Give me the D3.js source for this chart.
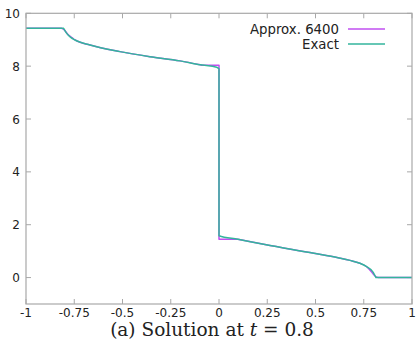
<!DOCTYPE html>
<html>
<head>
<meta charset="utf-8">
<script src="https://cdn.jsdelivr.net/npm/d3@7"></script>
<style>
  body { margin: 0; background: #fff; }
  svg text { font-family: "DejaVu Sans", sans-serif; fill: #222; }
</style>
</head>
<body>
<svg id="chart"></svg>
<script>
const width = 417;
const height = 351;

// Exact solution
const exactX = [-1, -0.805, -0.79, -0.77, -0.746, -0.668, -0.513, -0.358, -0.202, -0.098, -0.012, 0,
                0, 0.098, 0.238, 0.492, 0.617, 0.679, 0.73, 0.765, 0.799, 0.813, 1];
const exactY = [9.43, 9.43, 9.25, 9.1, 8.99, 8.8, 8.55, 8.36, 8.2, 8.05, 7.96, 7.9,
                1.585, 1.45, 1.25, 0.92, 0.75, 0.65, 0.54, 0.41, 0.2, 0, 0];

// Approximation (6400 cells)
const approxX = [-1, -0.815, -0.8, -0.785, -0.76, -0.746, -0.668, -0.513, -0.358, -0.202, -0.098, -0.085, 0,
                 0, 0.098, 0.238, 0.492, 0.617, 0.679, 0.73, 0.765, 0.795, 0.81, 0.825, 1];
const approxY = [9.43, 9.43, 9.36, 9.22, 9.07, 8.99, 8.8, 8.55, 8.36, 8.2, 8.05, 8.03, 8.03,
                 1.45, 1.45, 1.25, 0.92, 0.75, 0.65, 0.54, 0.41, 0.17, 0.05, 0, 0];

const xTicks = [-1, -0.75, -0.5, -0.25, 0, 0.25, 0.5, 0.75, 1];
const yTicks = [0, 2, 4, 6, 8, 10];

const series = [
  { name: 'Approx. 6400', xs: approxX, ys: approxY, color: '#c04ff0' },
  { name: 'Exact', xs: exactX, ys: exactY, color: '#33b59c' }
];

const svg = d3.select('#chart').attr('width', width).attr('height', height);

const x = d3.scaleLinear().domain([-1, 1]).range([26, 412]);
const y = d3.scaleLinear().domain([-1, 10]).range([304, 13.3]);

const frameColor = '#a8a8a8';

// Ticks (inward, mirrored like gnuplot)
const ticks = svg.append('g');
xTicks.forEach(t => {
  ticks.append('line').attr('x1', x(t)).attr('x2', x(t)).attr('y1', y(-1)).attr('y2', y(-1) - 5)
    .attr('stroke', frameColor);
  ticks.append('line').attr('x1', x(t)).attr('x2', x(t)).attr('y1', y(10)).attr('y2', y(10) + 5)
    .attr('stroke', frameColor);
  svg.append('text').attr('x', x(t)).attr('y', 317).attr('text-anchor', 'middle')
    .attr('font-size', 12).text(t);
});
yTicks.forEach(t => {
  ticks.append('line').attr('x1', x(-1)).attr('x2', x(-1) + 5).attr('y1', y(t)).attr('y2', y(t))
    .attr('stroke', frameColor);
  ticks.append('line').attr('x1', x(1)).attr('x2', x(1) - 5).attr('y1', y(t)).attr('y2', y(t))
    .attr('stroke', frameColor);
  svg.append('text').attr('x', 20).attr('y', y(t) + 4.5).attr('text-anchor', 'end')
    .attr('font-size', 12).text(t);
});

// split a polyline into smooth runs: break at vertical jumps and at flat/sloped corners
function runs(pts) {
  const out = [];
  let cur = [pts[0]];
  for (let i = 1; i < pts.length; i++) {
    const p = pts[i - 1], q = pts[i];
    const flat = q[1] === p[1];
    const vert = q[0] === p[0];
    const prevFlat = cur.length > 1 && cur[cur.length - 1][1] === cur[cur.length - 2][1];
    if (vert || (cur.length > 1 && flat !== prevFlat)) {
      out.push(cur);
      cur = [p];
    }
    cur.push(q);
  }
  out.push(cur);
  return out;
}

const line = d3.line().x(d => x(d[0])).y(d => y(d[1])).curve(d3.curveMonotoneX);
series.forEach(s => {
  const pts = s.xs.map((v, i) => [v, s.ys[i]]);
  const d = runs(pts).map(r => line(r)).join('').replace(/M/g, (m, off) => off === 0 ? 'M' : 'L');
  svg.append('path')
    .attr('d', d)
    .attr('fill', 'none')
    .attr('stroke', s.color)
    .attr('stroke-width', 1.5)
    .attr('stroke-linejoin', 'round');
});

// Frame
svg.append('rect')
  .attr('x', x(-1)).attr('y', y(10))
  .attr('width', x(1) - x(-1)).attr('height', y(-1) - y(10))
  .attr('fill', 'none').attr('stroke', frameColor).attr('stroke-width', 1.2);

// Legend
const legend = svg.append('g');
series.forEach((s, i) => {
  const ly = 29 + i * 15;
  legend.append('text').attr('x', 339).attr('y', ly + 4.5).attr('text-anchor', 'end')
    .attr('font-size', 13.3).text(s.name);
  legend.append('line').attr('x1', 348).attr('x2', 385).attr('y1', ly).attr('y2', ly)
    .attr('stroke', s.color).attr('stroke-width', 1.5);
});

// Caption
const cap = svg.append('text').attr('x', 212).attr('y', 336).attr('text-anchor', 'middle')
  .style('font-family', '"DejaVu Serif", serif').attr('font-size', 18.5);
cap.append('tspan').text('(a) Solution at ');
cap.append('tspan').style('font-style', 'italic').text('t');
cap.append('tspan').text(' = 0.8');
</script>
</body>
</html>
